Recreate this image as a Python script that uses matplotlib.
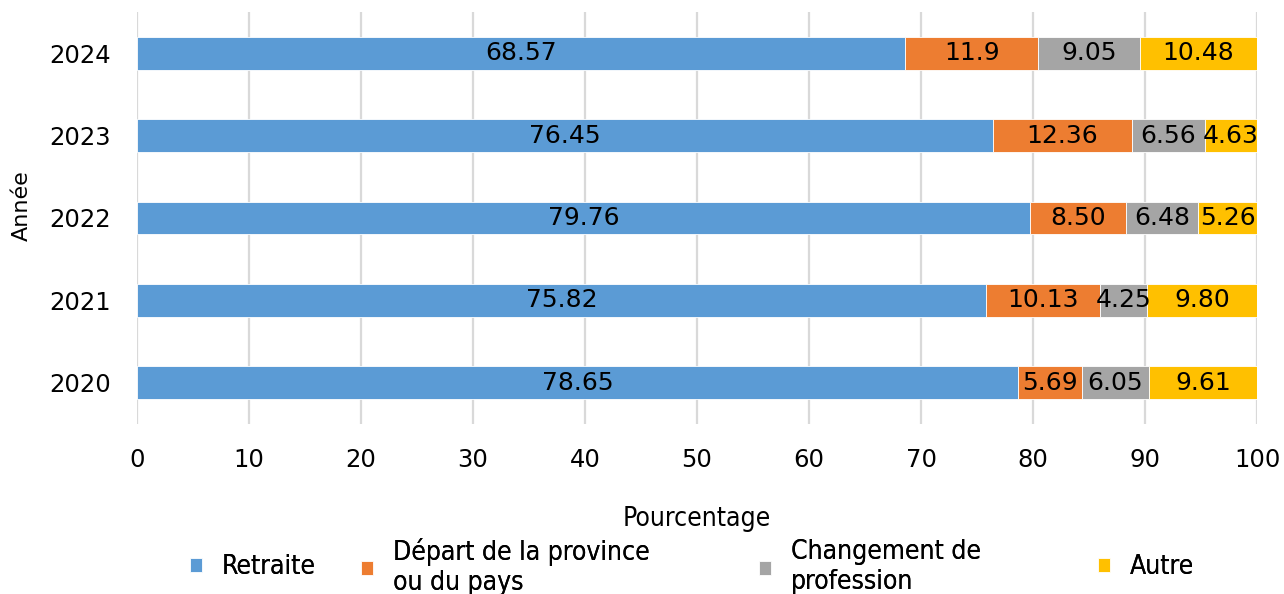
"""
Stacked horizontal bars: raisons de départ par année
"""
import matplotlib
matplotlib.use('Agg')
import matplotlib.pyplot as plt
from matplotlib import font_manager
import numpy as np

years = ['2020', '2021', '2022', '2023', '2024']
categories = ['Retraite', 'Départ de la province\nou du pays',
              'Changement de\nprofession', 'Autre']
retraite = [78.65, 75.82, 79.76, 76.45, 68.57]
depart = [5.69, 10.13, 8.50, 12.36, 11.9]
changement = [6.05, 4.25, 6.48, 6.56, 9.05]
autre = [9.61, 9.80, 5.26, 4.63, 10.48]
label_fmt = [['78.65', '75.82', '79.76', '76.45', '68.57'],
             ['5.69', '10.13', '8.50', '12.36', '11.9'],
             ['6.05', '4.25', '6.48', '6.56', '9.05'],
             ['9.61', '9.80', '5.26', '4.63', '10.48']]
colors = ['#5B9BD5', '#ED7D31', '#A5A5A5', '#FFC000']
legend_x = [190, 361, 759, 1098]   # marker left edge, pixels

narrow = font_manager.FontProperties(family='DejaVu Sans', stretch='condensed', size=19)

W, H = 1284, 594
fig = plt.figure(figsize=(W / 100, H / 100), dpi=100)
ax = fig.add_axes([0.1067, 0.286, 0.8723, 0.694])

y = np.arange(len(years))
left = np.zeros(len(years))
series = [retraite, depart, changement, autre]
handles = []
for vals, col, name, labs in zip(series, colors, categories, label_fmt):
    vals = np.array(vals)
    bars = ax.barh(y, vals, left=left, height=0.4, color=col,
                   edgecolor='white', linewidth=0.6, label=name, zorder=2)
    ax.bar_label(bars, labels=labs, label_type='center', fontsize=18,
                 color='black')
    handles.append(bars)
    left += vals

ax.set_xlim(0, 100)
ax.set_ylim(-0.5, 4.5)
ax.set_xticks(np.arange(0, 101, 10))
ax.set_yticks(y)
ax.set_yticklabels(years)
ax.tick_params(axis='both', length=0, labelsize=17.5)
ax.tick_params(axis='x', pad=17.5)
ax.tick_params(axis='y', pad=19)
ax.grid(axis='x', color='#D9D9D9', linewidth=1.6, zorder=0)
ax.set_axisbelow(True)
for s in ax.spines.values():
    s.set_visible(False)

ax.set_xlabel('Pourcentage', fontproperties=narrow, labelpad=24)
ax.set_ylabel('Année', fontsize=16)
ax.yaxis.set_label_coords(-0.094, 0.53)

# one legend per entry so the uneven spacing of the original is kept
for h, name, lx in zip(handles, categories, legend_x):
    leg = fig.legend(handles=[h], labels=[name], loc='center left',
                     bbox_to_anchor=(lx / W, 27 / H), frameon=False,
                     prop=narrow, borderpad=0, borderaxespad=0,
                     handlelength=0.45, handleheight=0.45, handletextpad=0.75)
    fig.add_artist(leg)

fig.savefig('out.png', dpi=100)
